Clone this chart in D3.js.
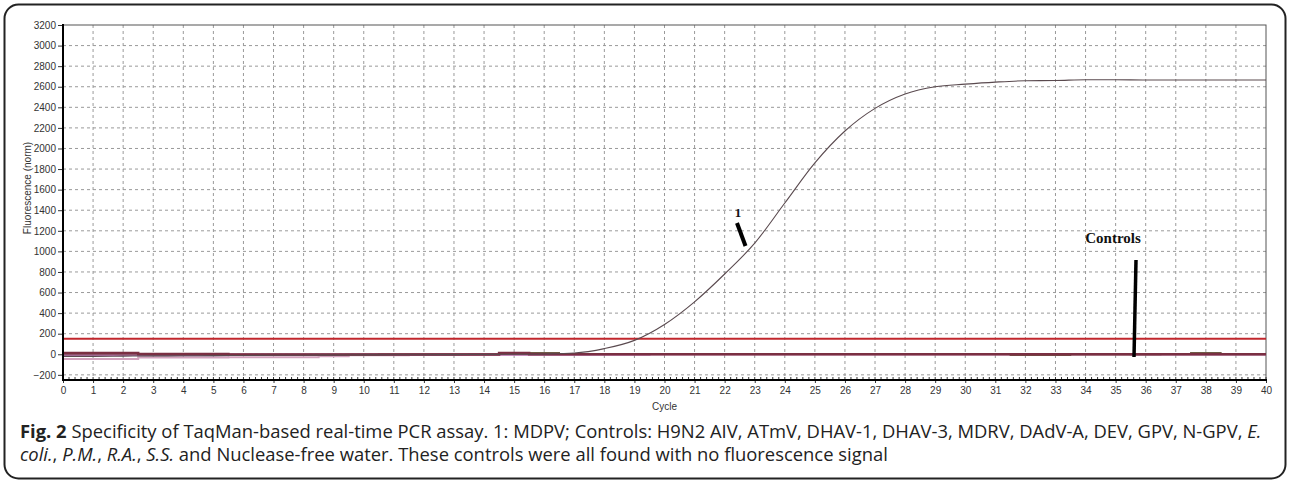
<!DOCTYPE html>
<html><head><meta charset="utf-8">
<script src="https://cdn.jsdelivr.net/npm/d3@7"></script>
<style>html,body{margin:0;padding:0;background:#fff;}svg{display:block;}</style>
</head><body>
<svg id="chart" width="1290" height="482"></svg>
<script>
// ---- data ----
const cycles = d3.range(0, 41);
const yTicks = d3.range(-200, 3201, 200);
const xTicks = d3.range(0, 41, 1);
const sample1 = [-20,-20,-18,-16,-15,-13,-12,-10,-9,-8,-6,-5,-4,-3,-2,0,3,12,55,135,290,510,780,1080,1470,1860,2170,2390,2530,2600,2625,2645,2658,2660,2668,2668,2665,2665,2665,2665,2665];
const ctrlMaroon = [12,12,12,2,2,2,-3,-3,-3,-3,-3,-2,-2,-1,-1,12,0,0,0,0,0,0,0,0,0,0,0,0,0,0,0,0,0,0,0,0,0,0,0,0,0];
const ctrlPink = [-45,-45,-45,-32,-32,-32,-30,-30,-30,-18,-10,-9,-5,-3,-2,-1,-1,-1,0,0,0,0,0,0,0,0,0,0,0,0,0,0,0,0,0,0,0,0,0,0,0];
const ctrlPurple = [-5,-5,-5,-10,-10,-10,-8,-8,-8,-6,-5,-3,-2,-1,0,0,0,0,0,0,2,2,2,2,2,2,2,2,2,2,2,2,2,2,2,2,0,0,0,0,0];
const ctrlMagenta = [-2,-2,-2,-2,-2,-2,-2,-2,-2,-2,-2,-2,-2,-2,-2,-2,-2,-2,-2,-2,0,0,0,0,0,0,0,0,0,0,0,0,0,0,0,0,0,0,0,0,0];
const ctrlOlive = [5,5,5,0,0,0,-2,-2,-2,-2,-2,0,0,0,0,5,15,0,0,0,0,0,0,0,0,0,0,0,0,0,0,0,-10,-10,-3,-3,-3,0,14,6,6];
const threshold = 150;
const captionLine1 = ["Fig. 2", " Specificity of TaqMan-based real-time PCR assay. 1: MDPV; Controls: H9N2 AIV, ATmV, DHAV-1, DHAV-3, MDRV, DAdV-A, DEV, GPV, N-GPV, ", "E."];
const captionLine2 = ["coli.", ", ", "P.M.", ", ", "R.A.", ", ", "S.S.", " and Nuclease-free water. These controls were all found with no fluorescence signal"];

// ---- layout ----
const svg = d3.select("#chart");
const L = 63, R = 1266, T = 25, B = 380;
const x = d3.scaleLinear().domain([0, 40]).range([L, R]);
const y = d3.scaleLinear().domain([-250, 3200]).range([B, T]);

// outer frame
svg.append("rect").attr("x", 4.5).attr("y", 4.5).attr("width", 1281).attr("height", 474)
  .attr("rx", 14).attr("ry", 14).attr("fill", "none").attr("stroke", "#222").attr("stroke-width", 2);

// grid
const grid = svg.append("g");
grid.selectAll("line.v").data(xTicks.filter(d => d > 0 && d < 40)).join("line")
  .attr("x1", d => x(d)).attr("x2", d => x(d)).attr("y1", T).attr("y2", B)
  .attr("stroke", "#9a9a9a").attr("stroke-width", 1).attr("stroke-dasharray", "3,3");
grid.selectAll("line.h").data(yTicks.filter(d => d < 3200)).join("line")
  .attr("x1", L).attr("x2", R).attr("y1", d => y(d)).attr("y2", d => y(d))
  .attr("stroke", "#9a9a9a").attr("stroke-width", 1).attr("stroke-dasharray", "3,3");

// plot border
svg.append("rect").attr("x", L).attr("y", T).attr("width", R - L).attr("height", B - T)
  .attr("fill", "none").attr("stroke", "#555").attr("stroke-width", 1);

// minor ticks on x (inside)
svg.append("g").selectAll("line").data(d3.range(0, 40.001, 0.2)).join("line")
  .attr("x1", d => x(d)).attr("x2", d => x(d)).attr("y1", B).attr("y2", B - 3)
  .attr("stroke", "#333").attr("stroke-width", 1);

// threshold
svg.append("line").attr("x1", L).attr("x2", R).attr("y1", y(threshold)).attr("y2", y(threshold))
  .attr("stroke", "#c1272d").attr("stroke-width", 2);

// control lines
const stepLine = d3.line().x((d, i) => x(cycles[i])).y(d => y(d)).curve(d3.curveStep);
const controls = [
  {v: ctrlPink, c: "#d2a2bd", w: 2},
  {v: ctrlPurple, c: "#8c5a86", w: 2},
  {v: ctrlMagenta, c: "#c065b0", w: 2},
  {v: ctrlOlive, c: "#6e5b45", w: 1.5},
  {v: ctrlMaroon, c: "#7a2f42", w: 2.5}
];
svg.append("g").selectAll("path").data(controls).join("path")
  .attr("d", d => stepLine(d.v)).attr("fill", "none")
  .attr("stroke", d => d.c).attr("stroke-width", d => d.w);

// sample 1 curve
const curveLine = d3.line().x((d, i) => x(cycles[i])).y(d => y(d)).curve(d3.curveMonotoneX);
svg.append("path").attr("d", curveLine(sample1)).attr("fill", "none")
  .attr("stroke", "#5a4a4f").attr("stroke-width", 1.1);

// axes
const tickFont = "Liberation Sans, Arial, sans-serif";
const yAxis = svg.append("g").attr("transform", `translate(${L},0)`)
  .call(d3.axisLeft(y).tickValues(yTicks).tickSize(5).tickPadding(2).tickSizeOuter(0).tickFormat(d3.format("d")));
const xAxis = svg.append("g").attr("transform", `translate(0,${B})`)
  .call(d3.axisBottom(x).tickValues(xTicks).tickSize(3).tickPadding(4).tickSizeOuter(0).tickFormat(d3.format("d")));
[yAxis, xAxis].forEach(g => {
  g.select(".domain").remove();
  g.selectAll(".tick line").attr("stroke", "#333");
  g.selectAll("text").attr("font-family", tickFont).attr("font-size", 10).attr("fill", "#333");
});
svg.append("line").attr("x1", L).attr("x2", L).attr("y1", T - 1).attr("y2", B + 1).attr("stroke", "#000").attr("stroke-width", 2);
svg.append("line").attr("x1", L - 1).attr("x2", R + 1).attr("y1", B).attr("y2", B).attr("stroke", "#000").attr("stroke-width", 2);

// axis titles
svg.append("text").attr("x", x(20)).attr("y", 410).attr("text-anchor", "middle")
  .attr("font-family", tickFont).attr("font-size", 10).attr("fill", "#333").text("Cycle");
svg.append("text").attr("transform", "translate(31,188) rotate(-90)").attr("text-anchor", "middle")
  .attr("font-family", tickFont).attr("font-size", 10).attr("fill", "#333").text("Fluorescence (norm)");

// annotations
svg.append("text").attr("x", 738).attr("y", 217).attr("text-anchor", "middle")
  .attr("font-family", "Liberation Serif, Times New Roman, serif").attr("font-weight", "bold").attr("font-size", 13).attr("fill", "#111").text("1");
svg.append("line").attr("x1", 737).attr("y1", 223).attr("x2", 745.5).attr("y2", 246)
  .attr("stroke", "#000").attr("stroke-width", 4);
svg.append("text").attr("x", 1113).attr("y", 243).attr("text-anchor", "middle")
  .attr("font-family", "Liberation Serif, Times New Roman, serif").attr("font-weight", "bold").attr("font-size", 15).attr("fill", "#111").text("Controls");
svg.append("line").attr("x1", 1136).attr("y1", 260).attr("x2", 1134).attr("y2", 357)
  .attr("stroke", "#000").attr("stroke-width", 3.5);

// caption
const capFont = "Open Sans, Noto Sans, sans-serif";
const t1 = svg.append("text").attr("x", 20).attr("y", 438).attr("font-family", capFont).attr("fill", "#222");
t1.append("tspan").attr("font-weight", "bold").text(captionLine1[0]);
t1.append("tspan").text(captionLine1[1]);
t1.append("tspan").attr("font-style", "italic").text(captionLine1[2]);
const t2 = svg.append("text").attr("x", 20).attr("y", 461).attr("font-family", capFont).attr("fill", "#222");
captionLine2.forEach((s, i) => {
  const ts = t2.append("tspan").text(s);
  if (i % 2 === 0 && i < 7) ts.attr("font-style", "italic");
});
// fit font size so that line 1 spans the reference width
let fs = 14;
t1.attr("font-size", fs); t2.attr("font-size", fs);
const w = t1.node().getComputedTextLength();
fs = fs * 1242 / w;
t1.attr("font-size", fs); t2.attr("font-size", fs);
</script>
</body></html>
